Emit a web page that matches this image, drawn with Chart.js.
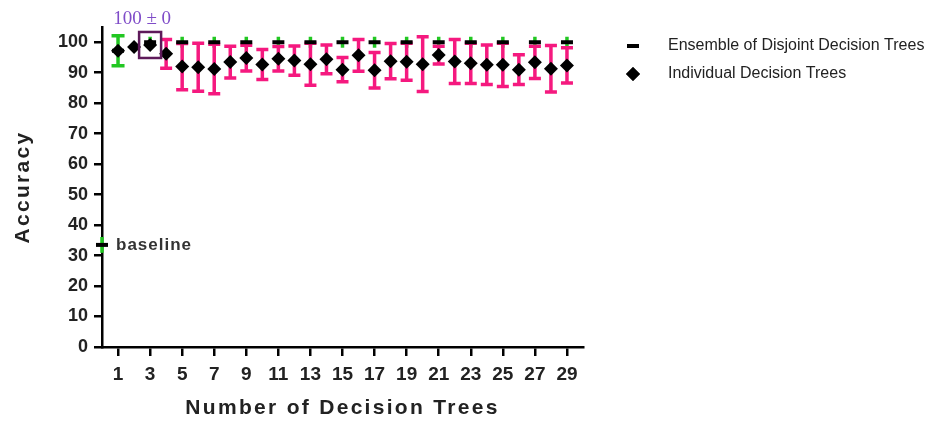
<!DOCTYPE html>
<html>
<head>
<meta charset="utf-8">
<title>Accuracy vs Number of Decision Trees</title>
<script src="https://cdn.jsdelivr.net/npm/chart.js@4.4.1/dist/chart.umd.min.js"></script>
<style>
    body { margin: 0; background: #fff; }
    canvas { display: block; }
</style>
</head>
<body>
<canvas id="myChart" width="943" height="422"></canvas>
<script>
// tick labels
var xTicks = [1, 3, 5, 7, 9, 11, 13, 15, 17, 19, 21, 23, 25, 27, 29];
var yTicks = [0, 10, 20, 30, 40, 50, 60, 70, 80, 90, 100];

// individual decision trees (mean and +/- error)
var treeCounts = [1, 2, 3, 4, 5, 6, 7, 8, 9, 10, 11, 12, 13, 14, 15, 16, 17, 18, 19, 20, 21, 22, 23, 24, 25, 26, 27, 28, 29];
var individualMean = [97.2, 98.4, 99.1, 96.2, 92.0, 91.8, 91.2, 93.5, 94.8, 92.7, 94.6, 94.0, 92.8, 94.4, 91.0,
    95.7, 90.8, 93.8, 93.6, 92.8, 95.8, 93.7, 93.1, 92.6, 92.6, 91.0, 93.4, 91.3, 92.4];
var individualErr = [0, 0, 0, 4.7, 7.6, 7.9, 8.1, 5.2, 4.2, 4.9, 4.0, 4.8, 6.9, 4.7, 4.0,
    5.2, 5.8, 5.8, 6.1, 9.0, 2.9, 7.2, 6.6, 6.5, 7.1, 4.9, 5.3, 7.6, 5.8];

// ensemble of disjoint decision trees
var ensembleCounts = [1, 3, 5, 7, 9, 11, 13, 15, 17, 19, 21, 23, 25, 27, 29];
var ensembleMean = [97.2, 100, 100, 100, 100, 100, 100, 100, 100, 100, 100, 100, 100, 100, 100];
var ensembleErr = [4.9, 1.8, 1.8, 1.8, 1.8, 1.8, 1.8, 1.8, 1.8, 1.8, 1.8, 1.8, 1.8, 1.8, 1.8];

// baseline
var baselineCount = [0];
var baselineMean = [33.5];
var baselineErr = [2.6];

// highlighted point
var highlightCount = 3;
var highlightLabel = '100 \u00b1 0';

function toPoints(xs, ys) {
    return xs.map(function (x, i) { return { x: x, y: ys[i] }; });
}

// axis titles in the reference are letter-spaced
var baseDrawTitle = Chart.Scale.prototype.drawTitle;
Chart.Scale.prototype.drawTitle = function () {
    this.ctx.save();
    this.ctx.letterSpacing = '2.3px';
    baseDrawTitle.call(this);
    this.ctx.restore();
};

var errorBars = {
    id: 'errorBars',
    beforeDatasetsDraw: function (chart) {
        var ctx = chart.ctx;
        var xs = chart.scales.x, ys = chart.scales.y;
        chart.data.datasets.forEach(function (ds) {
            if (!ds.errors) return;
            ctx.save();
            ctx.strokeStyle = ds.errorColor;
            ctx.lineWidth = 3.5;
            ds.data.forEach(function (p, i) {
                var e = ds.errors[i];
                if (!e) return;
                var px = xs.getPixelForValue(p.x);
                var top = ys.getPixelForValue(p.y + e);
                var bot = ys.getPixelForValue(p.y - e);
                ctx.beginPath();
                ctx.moveTo(px, top);
                ctx.lineTo(px, bot);
                if (e > 2) {
                    var w = ds.capWidth / 2;
                    ctx.moveTo(px - w, top);
                    ctx.lineTo(px + w, top);
                    ctx.moveTo(px - w, bot);
                    ctx.lineTo(px + w, bot);
                }
                ctx.stroke();
            });
            ctx.restore();
        });
    }
};

var annotations = {
    id: 'annotations',
    afterDraw: function (chart) {
        var ctx = chart.ctx;
        var xs = chart.scales.x, ys = chart.scales.y;

        // box around the highlighted point and its label
        var hx = xs.getPixelForValue(highlightCount);
        var hy = ys.getPixelForValue(individualMean[treeCounts.indexOf(highlightCount)]);
        ctx.save();
        ctx.strokeStyle = '#5e1a5a';
        ctx.lineWidth = 2.5;
        ctx.strokeRect(hx - 11, hy - 13, 22, 26);
        ctx.fillStyle = '#7f4cc8';
        ctx.font = '19px "Liberation Serif", "DejaVu Serif", serif';
        ctx.textAlign = 'center';
        ctx.textBaseline = 'middle';
        ctx.fillText(highlightLabel, hx - 8, hy - 26);

        // baseline label
        var bx = xs.getPixelForValue(baselineCount[0]);
        var by = ys.getPixelForValue(baselineMean[0]);
        ctx.fillStyle = '#333';
        ctx.font = 'bold 17px "Liberation Sans", Arial, sans-serif';
        ctx.textAlign = 'left';
        ctx.letterSpacing = '1px';
        ctx.fillText('baseline', bx + 14, by);
        ctx.letterSpacing = '0px';

        // legend
        var rows = [chart.data.datasets[0], chart.data.datasets[1]];
        ctx.font = '16px "Liberation Sans", Arial, sans-serif';
        ctx.textBaseline = 'middle';
        rows.forEach(function (ds, i) {
            var y = 46 + i * 28;
            Chart.helpers.drawPoint(ctx, {
                pointStyle: ds.pointStyle,
                radius: ds.pointRadius,
                borderWidth: ds.borderWidth,
                rotation: 0
            }, 633, y);
            ctx.fillStyle = '#000';
            ctx.strokeStyle = '#000';
            ctx.lineWidth = ds.borderWidth;
            if (ds.pointStyle === 'line') ctx.stroke(); else ctx.fill();
            ctx.fillStyle = '#222';
            ctx.fillText(ds.label, 668, y);
        });
        ctx.restore();
    }
};

var ctx = document.getElementById('myChart').getContext('2d');
var myChart = new Chart(ctx, {
    type: 'scatter',
    data: {
        datasets: [{
            label: 'Ensemble of Disjoint Decision Trees',
            data: toPoints(ensembleCounts, ensembleMean),
            errors: ensembleErr,
            errorColor: '#22c722',
            capWidth: 13,
            pointStyle: 'line',
            pointRadius: 6,
            borderWidth: 4,
            borderColor: '#000',
            backgroundColor: '#000',
            order: 1,
            clip: false
        }, {
            label: 'Individual Decision Trees',
            data: toPoints(treeCounts, individualMean),
            errors: individualErr,
            errorColor: '#f5197f',
            capWidth: 12,
            pointStyle: 'rectRot',
            pointRadius: 7,
            borderWidth: 0,
            borderColor: '#000',
            backgroundColor: '#000',
            order: 2,
            clip: false
        }, {
            label: 'Baseline',
            data: toPoints(baselineCount, baselineMean),
            errors: baselineErr,
            errorColor: '#22c722',
            capWidth: 0,
            pointStyle: 'line',
            pointRadius: 6,
            borderWidth: 4,
            borderColor: '#000',
            backgroundColor: '#000',
            order: 0,
            clip: false
        }]
    },
    options: {
        responsive: false,
        animation: false,
        devicePixelRatio: 1,
        layout: { padding: { top: 27, right: 360, left: 0, bottom: 0 } },
        plugins: {
            legend: { display: false },
            tooltip: { enabled: false }
        },
        scales: {
            x: {
                type: 'linear',
                min: 0,
                max: 30,
                afterBuildTicks: function (scale) {
                    scale.ticks = xTicks.map(function (v) { return { value: v }; });
                },
                afterFit: function (scale) { scale.height = 75; },
                grid: { drawOnChartArea: false, tickLength: 9, color: '#000', lineWidth: 2.5 },
                border: { color: '#000', width: 2.5 },
                ticks: {
                    padding: 7,
                    color: '#222',
                    maxRotation: 0,
                    font: { family: '"Liberation Sans", Arial, sans-serif', size: 19, weight: 'bold' }
                },
                title: {
                    display: true,
                    text: 'Number of Decision Trees',
                    color: '#222',
                    padding: { top: 0, bottom: 1 },
                    font: { family: '"Liberation Sans", Arial, sans-serif', size: 21, weight: 'bold' }
                }
            },
            y: {
                min: 0,
                max: 105,
                afterBuildTicks: function (scale) {
                    scale.ticks = yTicks.map(function (v) { return { value: v }; });
                },
                afterFit: function (scale) { scale.width = 102; },
                grid: { drawOnChartArea: false, tickLength: 8, color: '#000', lineWidth: 2.5 },
                border: { color: '#000', width: 2.5 },
                ticks: {
                    padding: 6,
                    color: '#222',
                    font: { family: '"Liberation Sans", Arial, sans-serif', size: 18, weight: 'bold' }
                },
                title: {
                    display: true,
                    text: 'Accuracy',
                    color: '#222',
                    padding: { top: 11, bottom: 0 },
                    font: { family: '"Liberation Sans", Arial, sans-serif', size: 21, weight: 'bold' }
                }
            }
        }
    },
    plugins: [errorBars, annotations]
});
</script>
</body>
</html>
